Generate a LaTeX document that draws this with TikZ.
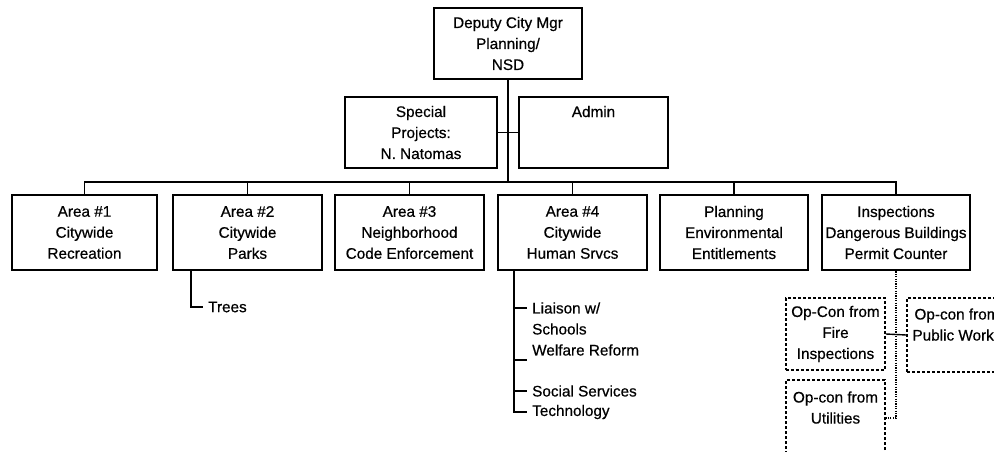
\documentclass[tikz,border=0pt]{standalone}
\usepackage{fontspec}
\setmainfont{Liberation Sans}[FakeBold=0.5]
\usetikzlibrary{calc}
\begin{document}
\begin{tikzpicture}[x=1pt,y=-1pt,
  every node/.style={font=\fontsize{15.3}{21}\selectfont},
  sz/.style 2 args={minimum width=#1pt, minimum height=#2pt},
  box/.style={draw, line width=2.8pt, fill=white, inner sep=0pt, align=center},
  opbox/.style={draw, line width=1.8pt, dash pattern=on 3pt off 2pt, fill=white, inner sep=0pt, align=center},
  conn/.style={line width=1.9pt},
  dotconn/.style={line width=1.6pt, dash pattern=on 1.2pt off 1.2pt},
  item/.style={anchor=west, inner xsep=5pt, inner ysep=0pt}]
\fill[white] (0,0) rectangle (994,452);
\useasboundingbox (0,0) rectangle (994,452);
\clip (0,0) rectangle (994,452);

% junction points of the main tree
\coordinate (bus) at (508,182);

% top level and staff
\node[box, sz={148}{71}] (top) at (508,43.5) {Deputy City Mgr\\Planning/\\NSD};
\node[box, sz={152}{71}] (sp) at (421,132.5) {Special\\Projects:\\N. Natomas};
\node[box, sz={149}{71}] (adm) at (593.5,132.5) {Admin\\ \\ \mbox{}};

% divisions
\node[box, sz={145}{75}] (a1) at (84.5,232.5) {Area \#1\\Citywide\\Recreation};
\node[box, sz={149}{75}] (a2) at (247.5,232.5) {Area \#2\\Citywide\\Parks};
\node[box, sz={149}{75}] (a3) at (409.5,232.5) {Area \#3\\Neighborhood\\Code Enforcement};
\node[box, sz={149}{75}] (a4) at (572.5,232.5) {Area \#4\\Citywide\\Human Srvcs};
\node[box, sz={148}{75}] (a5) at (734,232.5) {Planning\\Environmental\\Entitlements};
\node[box, sz={148}{75}] (a6) at (896,232.5) {Inspections\\Dangerous Buildings\\Permit Counter};

% operational control units
\node[opbox, sz={99}{72}] (fire) at (835.5,334) {Op-Con from\\Fire\\Inspections};
\node[opbox, sz={100}{74}] (pw) at (957,335) {Op-con from\\Public Works\\ \mbox{}};
\node[opbox, sz={99}{76}] (util) at (835.5,418) {Op-con from\\Utilities\\ \mbox{}};

% sub-items
\node[item] (trees) at (203,307) {Trees};
\node[item] (liaison) at (527,308) {Liaison w/};
\node[item] (schools) at (527,329) {Schools};
\node[item] (welfare) at (527,350) {Welfare Reform};
\node[item] (social) at (527,391) {Social Services};
\node[item] (tech) at (527,412) {Technology};
\coordinate (gap) at (527,360);

% main connectors
\draw[conn] (top.south) -- (bus);
\draw[conn] (sp.east) -- (adm.west);
\draw[conn] (a1.north) |- (bus) -| (a6.north);
\draw[conn] (a2.north) -- (a2.north |- bus);
\draw[conn] (a3.north) -- (a3.north |- bus);
\draw[conn] (a4.north) -- (a4.north |- bus);
\draw[conn] (a5.north) -- (a5.north |- bus);

% sub-item brackets
\coordinate (parks) at ($(a2.south west)+(19,0)$);
\draw[conn] (parks) |- (trees.west);
\coordinate (human) at ($(a4.south west)+(17,0)$);
\draw[conn] (human) |- (tech.west);
\draw[conn] (human |- liaison.west) -- (liaison.west);
\draw[conn] (human |- gap) -- (gap);
\draw[conn] (human |- social.west) -- (social.west);

% operational control links
\draw[dotconn] (a6.south) |- (util.east);
\draw[line width=1.4pt] (fire.east) -- (pw.west);
\end{tikzpicture}
\end{document}
